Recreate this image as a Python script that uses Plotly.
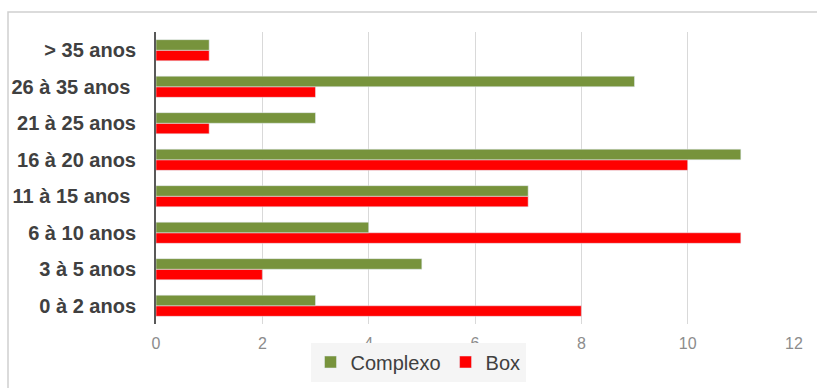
import plotly.graph_objects as go

categories = ["0 à 2 anos", "3 à 5 anos", "6 à 10 anos", "11 à 15 anos\u00a0",
              "16 à 20 anos", "21 à 25 anos", "26 à 35 anos\u00a0", "> 35 anos"]
complexo = [3, 5, 4, 7, 11, 3, 9, 1]
box = [8, 2, 11, 7, 10, 1, 3, 1]
x_ticks = [0, 2, 4, 6, 8, 10, 12]

fig = go.Figure()
fig.add_trace(go.Bar(y=categories, x=box, name="Box", orientation="h",
                     marker=dict(color="#FF0000"), legendrank=2))
fig.add_trace(go.Bar(y=categories, x=complexo, name="Complexo", orientation="h",
                     marker=dict(color="#77933C"), legendrank=1))

W, H = 817, 388
L, R, T, B = 156, 23, 32, 64
pw, ph = W - L - R, H - T - B

fig.update_layout(
    width=W, height=H,
    margin=dict(l=L, r=R, t=T, b=B, autoexpand=False),
    barmode="group", bargap=0.42, bargroupgap=0,
    plot_bgcolor="white", paper_bgcolor="white",
    font=dict(family="Liberation Sans, Arial", color="#404040"),
    xaxis=dict(range=[0, 12], tickvals=x_ticks, showgrid=True, gridcolor="#d9d9d9",
               gridwidth=1, zeroline=False, showline=False,
               tickfont=dict(size=16, color="#8c8c8c"), ticklabelstandoff=8),
    yaxis=dict(type="category", showline=True, linecolor="#595959", linewidth=2,
               showgrid=False, tickfont=dict(size=20, color="#404040", weight="bold"),
               ticklabelstandoff=14),
    legend=dict(orientation="h", x=(418 - L) / pw, xanchor="center",
                y=(H - B - 362) / ph, yanchor="middle",
                bgcolor="#f5f5f5", font=dict(size=20, color="#404040"),
                itemwidth=30),
    showlegend=True,
    shapes=[dict(type="rect", xref="paper", yref="paper",
                 x0=(8 - L) / pw, x1=(830 - L) / pw,
                 y0=(H - B - 400) / ph, y1=(H - B - 12) / ph,
                 line=dict(color="#d0d0d0", width=1.5), layer="below")],
)

fig.write_html("out.html")
